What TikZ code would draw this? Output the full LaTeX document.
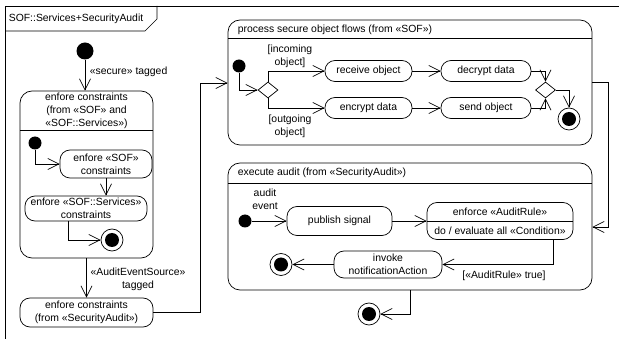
\documentclass[tikz,border=0pt]{standalone}
\usepackage{fontspec}
\setmainfont{Liberation Sans}
\usetikzlibrary{arrows.meta,shapes.geometric}

\begin{document}
\begin{tikzpicture}[x=1pt,y=-1pt,line width=0.7pt,
		every node/.style = {font=\fontsize{10.4}{12.8}\selectfont, inner sep=1.5pt},
		flw/.style = {-{Straight Barb[length=11pt,width=11pt]}},
		stt/.style args = {#1/#2}{%
			draw, rounded corners=10pt, align=center,
			minimum width=#1, minimum height=#2},
		cmp/.style args = {#1/#2}{%
			draw, rounded corners=12pt, minimum width=#1, minimum height=#2},
		ini/.style = {circle, fill=black, inner sep=0pt, minimum size=#1},
		fin/.style = {circle, draw, inner sep=0pt, minimum size=22pt,
			path picture={\fill (path picture bounding box.center) circle (7pt);}},
		dec/.style = {diamond, draw, inner sep=0pt, minimum width=20pt, minimum height=16pt}
		]
		\useasboundingbox (0,0) rectangle (619,339);
		\draw[line width=0.8pt] (5,339) |- (619,6);
		\draw (5,31) -- (145,31) -- (157,19) -- (157,6);
		\node (ttl) [anchor=west] at (7,19) {SOF::Services+SecurityAudit};
		
		\node (i0) [ini=17pt] at (85,51) {};
		\node (l1) [anchor=west] at (88,72) {«secure» tagged};
		\node (c1) [cmp=133pt/167pt] at (86.5,174.5) {};
		\node (c1t) [align=center] at (86.5,111) {enfore constraints\\(from «SOF» and\\«SOF::Services»)};
		\draw (20,130) -- (153,130);
		\node (i1) [ini=13pt] at (35,143) {};
		\node (s1) [stt=92pt/28pt] at (106,164) {enfore «SOF»\\constraints};
		\node (s2) [stt=122pt/25pt] at (86,208.5) {enfore «SOF::Services»\\constraints};
		\node (f1) [fin] at (112,240) {};
		\node (l2) [align=center] at (138,279.5) {«AuditEventSource»\\tagged};
		\node (s3) [stt=133pt/29pt] at (86.5,312.5) {enfore constraints\\(from «SecurityAudit»)};
		\coordinate (k1) at (200,83);
		
		\node (c2) [cmp=364pt/125pt] at (410,82.5) {};
		\node (c2t) [anchor=west] at (236,29.5) {process secure object flows (from «SOF»)};
		\draw (228,38) -- (592,38);
		\node (i2) [ini=13pt] at (239,66) {};
		\node (d1) [dec] at (268,90) {};
		\node (l3) [align=center] at (290,56.5) {[incoming\\object]};
		\node (l4) [align=center] at (290,126.5) {[outgoing\\object]};
		\node (s4) [stt=87pt/21pt] at (368.5,71) {receive object};
		\node (s5) [stt=90pt/21pt] at (486,71) {decrypt data};
		\node (s6) [stt=87pt/21pt] at (368.5,108) {encrypt data};
		\node (s7) [stt=90pt/21pt] at (486,108) {send object};
		\node (d2) [dec] at (545.5,90) {};
		\node (f2) [fin] at (569,119) {};
		\coordinate (k2) at (608,227);
		
		\node (c3) [cmp=364pt/127pt] at (410,226.5) {};
		\node (c3t) [anchor=west] at (236,173) {execute audit (from «SecurityAudit»)};
		\draw (228,183) -- (592,183);
		\node (i3) [ini=13pt] at (245,221) {};
		\node (l5) [align=center] at (265,199.5) {audit\\event};
		\node (s8) [stt=105pt/29pt] at (339.5,221) {publish signal};
		\node (s9) [stt=146pt/37pt] at (500,221) {};
		\node (s9a) at (500,211.5) {enforce «AuditRule»};
		\node (s9b) at (500,230.5) {do / evaluate all «Condition»};
		\draw (s9.west) -- (s9.east);
		\node (s10) [stt=108pt/27pt] at (388,264.5) {invoke\\notificationAction};
		\node (f3) [fin] at (281,264.5) {};
		\node (l6) at (504,275.5) {[«AuditRule» true]};
		\node (f4) [fin] at (369,314) {};
		
		\draw[flw] (i0) -- (i0 |- c1.north);
		\draw[flw] (i1) |- (s1);
		\draw[flw] (s1) -- (s1 |- s2.north);
		\draw[flw] ([xshift=-18pt]s2.south) |- (f1);
		\draw[flw] (c1) -- (c1 |- s3.north);
		\draw[flw] (s3) -| (k1) -- (k1 -| c2.west);
		\draw[flw] (i2) |- (d1);
		\draw[flw] (d1.north) |- (s4);
		\draw[flw] (d1.south) |- (s6);
		\draw[flw] (s5) -| (d2);
		\draw[flw] (s7) -| (d2);
		\draw[flw] (d2) -| (f2);
		\draw[flw] (c2) -| (k2) -- (k2 -| c3.east);
		\draw[flw] ([xshift=53pt]s9.south) |- (s10);
		\draw[flw] (c3) |- (f4);
		\foreach \from/\to in {i3/s8, s8/s9, s4/s5, s6/s7, s10/f3}
		\draw[flw] (\from) -- (\to);
	\end{tikzpicture}
\end{document}
